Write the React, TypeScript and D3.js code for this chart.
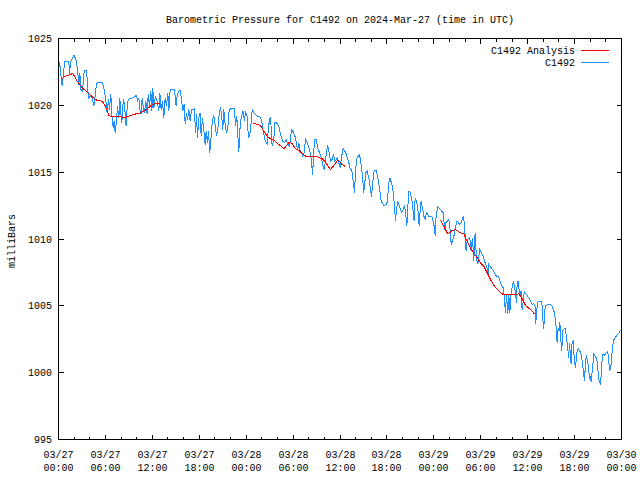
import React from 'react';
import * as d3 from 'd3';

const startTime = Date.UTC(2024, 2, 27, 0, 0);
const endTime = Date.UTC(2024, 2, 30, 0, 0);
const pressureTicks = [995, 1000, 1005, 1010, 1015, 1020, 1025];

// C1492 readings as [hours after 03/27 00:00 UTC, millibars]
const stationDay1: [number, number][] = [
  [0.13, 1023.25], [0.47, 1021.43], [0.68, 1022.68], [0.81, 1023.25], [1.32, 1023.25], [1.41, 1022.31],
  [1.53, 1023.25], [2.0, 1023.75], [2.3, 1023.3], [2.47, 1022.43], [2.6, 1021.56], [2.73, 1022.43],
  [2.86, 1021.19], [3.03, 1021.06], [3.15, 1021.56], [3.28, 1022.56], [3.5, 1022.63], [3.62, 1022.48],
  [3.71, 1021.31], [3.88, 1020.56], [4.09, 1020.69], [4.31, 1020.56], [4.52, 1019.94], [4.65, 1020.56],
  [4.86, 1021.56], [5.03, 1021.73], [5.58, 1021.73], [5.8, 1021.31], [6.05, 1020.44], [6.22, 1019.44],
  [6.39, 1020.44], [6.52, 1019.69], [6.69, 1020.81], [6.82, 1019.32], [6.99, 1018.32], [7.12, 1018.82],
  [7.25, 1017.94], [7.42, 1018.94], [7.54, 1019.94], [7.72, 1019.07], [7.84, 1020.56], [7.97, 1019.44],
  [8.1, 1018.69], [8.23, 1020.06], [8.35, 1020.44], [8.53, 1019.32], [8.65, 1018.44], [8.78, 1019.81],
  [8.91, 1020.44], [9.42, 1020.56], [9.97, 1020.74], [10.14, 1020.31], [10.27, 1020.56], [10.44, 1019.56],
  [10.57, 1019.32], [10.7, 1020.56], [10.87, 1019.69], [11.0, 1019.44], [11.17, 1020.31], [11.34, 1019.32],
  [11.47, 1020.81], [11.64, 1019.94], [11.81, 1021.06], [11.94, 1019.56], [12.06, 1021.31], [12.19, 1019.81],
  [12.4, 1020.69], [12.62, 1020.31], [12.83, 1019.56], [12.96, 1020.94], [13.13, 1019.69], [13.3, 1020.31],
  [13.47, 1019.07], [13.64, 1020.56], [13.81, 1019.94], [13.98, 1020.94], [14.11, 1019.56], [14.28, 1021.19],
  [14.83, 1021.19], [15.05, 1019.94], [15.17, 1020.69], [15.35, 1021.06], [15.56, 1021.11], [15.73, 1020.44],
  [15.9, 1019.56], [16.07, 1020.06], [16.2, 1018.57], [16.37, 1019.44], [16.5, 1018.94], [16.67, 1019.69],
  [16.84, 1018.82], [17.01, 1019.69], [17.39, 1019.74], [17.52, 1017.94], [17.65, 1019.32], [17.77, 1017.57],
  [17.95, 1019.07], [18.12, 1019.44], [18.24, 1017.69], [18.41, 1019.07], [18.58, 1018.19], [18.76, 1017.07],
  [18.88, 1018.07], [19.05, 1017.2], [19.18, 1018.07], [19.35, 1016.45], [19.52, 1017.69], [19.69, 1018.94],
  [19.86, 1019.24], [20.03, 1018.57], [20.2, 1017.69], [20.37, 1018.19], [20.55, 1019.32], [20.72, 1019.89],
  [20.89, 1019.07], [21.01, 1018.19], [21.14, 1019.69], [21.31, 1018.57], [21.48, 1017.94], [21.65, 1018.32],
  [21.82, 1019.56], [21.99, 1019.74], [22.51, 1019.74], [22.63, 1018.44], [22.8, 1019.19], [22.93, 1017.82],
  [23.06, 1016.5], [23.2, 1018.2], [23.36, 1019.07], [23.61, 1019.57], [23.79, 1018.82], [23.91, 1019.56],
];

const stationDay2: [number, number][] = [
  [24.13, 1019.19], [24.25, 1017.94], [24.34, 1017.57], [24.55, 1018.07], [24.77, 1019.69], [24.98, 1019.44],
  [25.4, 1019.19], [25.7, 1019.19], [25.96, 1018.94], [26.13, 1018.19], [26.39, 1017.45], [26.68, 1017.07],
  [26.81, 1018.07], [26.98, 1018.94], [27.11, 1019.07], [27.24, 1017.94], [27.32, 1016.94], [27.54, 1017.45],
  [27.66, 1018.69], [27.83, 1018.74], [28.18, 1018.44], [28.35, 1017.94], [28.52, 1017.57], [28.69, 1017.32],
  [28.94, 1017.2], [29.11, 1017.45], [29.37, 1017.07], [29.54, 1016.94], [29.67, 1017.45], [29.8, 1018.19],
  [29.97, 1018.07], [30.31, 1017.57], [30.48, 1016.94], [30.61, 1016.7], [30.73, 1017.2], [30.86, 1016.7],
  [31.25, 1016.2], [31.42, 1016.45], [31.59, 1017.5], [31.76, 1017.32], [32.1, 1016.7], [32.27, 1016.2],
  [32.4, 1015.45], [32.48, 1014.82], [32.61, 1015.95], [32.69, 1016.94], [32.78, 1017.45], [32.95, 1017.45],
  [33.21, 1016.7], [33.55, 1016.2], [33.89, 1015.32], [34.02, 1015.2], [34.14, 1015.95], [34.4, 1016.94],
  [34.53, 1016.82], [34.65, 1016.2], [34.82, 1015.82], [34.99, 1015.95], [35.17, 1016.32], [35.34, 1015.82],
  [35.68, 1016.07], [35.85, 1015.7], [36.02, 1015.32], [36.19, 1016.07], [36.36, 1016.7], [36.45, 1016.75],
  [36.74, 1016.45], [37.08, 1015.83], [37.34, 1015.2], [37.51, 1015.15], [37.77, 1013.96], [37.85, 1013.46],
  [37.98, 1014.96], [38.11, 1015.96], [38.45, 1016.33], [38.62, 1015.96], [38.83, 1014.96], [39.04, 1013.46],
  [39.17, 1014.21], [39.3, 1014.96], [39.47, 1015.09], [39.73, 1014.46], [40.03, 1013.16], [40.15, 1013.96],
  [40.32, 1014.96], [40.5, 1015.16], [40.67, 1015.09], [41.01, 1013.96], [41.26, 1012.84], [41.6, 1012.51],
  [41.94, 1012.59], [42.07, 1012.84], [42.24, 1014.21], [42.37, 1014.59], [42.71, 1013.96], [42.97, 1012.46],
  [43.09, 1011.34], [43.22, 1012.21], [43.39, 1012.84], [43.73, 1012.21], [43.9, 1011.96], [44.25, 1012.46],
  [44.42, 1011.84], [44.54, 1010.97], [44.67, 1012.09], [44.76, 1013.59], [44.93, 1013.59], [45.22, 1012.84],
  [45.48, 1011.34], [45.61, 1013.09], [45.78, 1012.84], [45.95, 1012.34], [46.12, 1010.97], [46.25, 1012.09],
  [46.38, 1012.84], [46.72, 1011.72], [46.89, 1011.47], [47.06, 1011.96], [47.4, 1011.66], [47.75, 1011.72],
];

const stationDay3: [number, number][] = [
  [48.09, 1010.84], [48.17, 1010.22], [48.3, 1011.8], [48.51, 1012.41], [48.85, 1012.21], [49.19, 1011.96],
  [49.4, 1010.71], [49.53, 1011.21], [49.91, 1011.46], [50.04, 1010.96], [50.21, 1009.72], [50.3, 1009.59],
  [50.38, 1009.97], [50.55, 1010.09], [50.64, 1010.59], [50.98, 1011.34], [51.32, 1011.09], [51.49, 1011.21],
  [51.79, 1011.71], [51.92, 1011.09], [52.09, 1009.22], [52.17, 1009.09], [52.26, 1009.97], [52.6, 1010.09],
  [52.77, 1009.09], [52.94, 1010.09], [53.11, 1008.35], [53.28, 1010.46], [53.45, 1008.6], [53.62, 1008.1],
  [53.88, 1009.22], [54.22, 1008.84], [54.56, 1008.22], [54.86, 1007.72], [54.94, 1007.22], [55.03, 1008.1],
  [55.5, 1007.72], [56.01, 1007.22], [56.27, 1007.22], [56.52, 1006.73], [56.86, 1006.35], [56.99, 1005.85],
  [57.16, 1004.48], [57.29, 1005.85], [57.46, 1004.36], [57.59, 1005.85], [57.72, 1004.48], [57.85, 1005.73],
  [58.06, 1006.6], [58.18, 1006.85], [58.44, 1005.98], [58.57, 1005.23], [58.65, 1006.6], [58.78, 1006.85],
  [58.99, 1005.73], [59.16, 1006.1], [59.29, 1004.73], [59.34, 1004.85], [59.51, 1005.85], [59.59, 1006.03],
  [59.93, 1005.78], [60.27, 1005.48], [60.61, 1005.1], [60.78, 1005.18], [60.95, 1004.98], [61.04, 1003.61],
  [61.12, 1004.48], [61.3, 1005.28], [61.64, 1005.35], [61.81, 1005.28], [61.98, 1003.74], [62.06, 1003.24],
  [62.15, 1004.48], [62.28, 1005.03], [62.83, 1005.1], [63.09, 1005.03], [63.43, 1004.48], [63.6, 1003.74],
  [63.77, 1002.24], [63.9, 1003.36], [64.02, 1003.11], [64.11, 1003.79], [64.28, 1002.12], [64.36, 1001.62],
  [64.45, 1002.62], [64.53, 1003.24], [64.83, 1003.29], [65.04, 1002.24], [65.25, 1001.12], [65.34, 1002.24],
  [65.56, 1000.62], [65.68, 1002.24], [65.81, 1002.37], [65.98, 1000.87], [66.11, 1000.37], [66.32, 1001.62],
  [66.45, 1001.8], [66.79, 1001.49], [67.01, 1000.75], [67.26, 999.37], [67.43, 1001.0], [67.51, 1001.19],
  [67.68, 1000.87], [67.94, 999.5], [68.03, 999.75], [68.11, 999.3], [68.28, 1000.25], [68.46, 1001.37],
  [68.71, 1001.19], [68.88, 1000.87], [69.1, 999.5], [69.31, 999.12], [69.39, 999.75], [69.56, 1001.37],
  [69.82, 1001.3], [69.99, 1001.44], [70.25, 1001.62], [70.33, 1001.0], [70.5, 1000.12], [70.67, 1000.62],
  [70.84, 1001.87], [71.01, 1002.45], [71.36, 1002.75], [71.7, 1003.0], [71.87, 1003.2],
];

// C1492 Analysis: three separate runs
const analysisRun1: [number, number][] = [
  [0.26, 1021.93], [0.9, 1022.18], [1.83, 1022.38], [2.39, 1021.81], [3.03, 1021.31], [3.67, 1020.99],
  [4.31, 1020.64], [4.94, 1020.36], [5.58, 1020.31], [6.01, 1019.94], [6.44, 1019.24], [6.86, 1019.14],
  [7.5, 1019.19], [8.35, 1019.07], [8.78, 1019.14], [9.63, 1019.32], [10.49, 1019.44], [11.25, 1019.69],
  [11.85, 1019.99], [12.4, 1020.14], [12.96, 1020.14],
];

const analysisRun2: [number, number][] = [
  [24.85, 1018.69], [25.83, 1018.49], [26.26, 1018.07], [26.68, 1017.69], [27.11, 1017.49], [27.54, 1017.4],
  [28.18, 1017.07], [28.6, 1016.87], [28.82, 1016.75], [29.11, 1016.95], [29.54, 1017.25], [29.88, 1017.12],
  [30.31, 1016.77], [30.73, 1016.62], [31.16, 1016.4], [31.59, 1016.2], [32.86, 1016.2], [33.72, 1016.0],
  [34.14, 1015.75], [34.78, 1015.2], [35.21, 1015.5], [35.63, 1015.83], [35.85, 1015.87], [36.27, 1015.57],
  [36.61, 1015.45],
];

const analysisRun3: [number, number][] = [
  [48.85, 1011.41], [49.28, 1010.96], [49.7, 1010.46], [49.91, 1010.41], [50.34, 1010.64], [50.77, 1010.71],
  [51.41, 1010.46], [51.83, 1010.39], [52.26, 1009.84], [52.69, 1009.34], [53.11, 1008.92], [53.54, 1008.6],
  [53.96, 1008.22], [54.39, 1007.97], [54.82, 1007.47], [55.24, 1006.97], [55.67, 1006.53], [56.1, 1006.23],
  [56.52, 1005.98], [56.95, 1005.83], [57.8, 1005.83], [58.65, 1005.85], [58.87, 1005.9], [59.29, 1005.53],
  [59.72, 1005.03], [60.36, 1004.73], [60.87, 1004.4],
];

const FONT = '"Liberation Mono", "DejaVu Sans Mono", monospace';
const BLUE = '#1e90ff';
const RED = '#ff0000';

const toDate = (h: number) => new Date(startTime + h * 3600 * 1000);

export default function App() {
  const width = 640;
  const height = 480;
  const left = 58.5, right = 621.5, top = 38.5, bottom = 439.5;

  const x = d3.scaleUtc().domain([new Date(startTime), new Date(endTime)]).range([left, right]);
  const y = d3.scaleLinear().domain([995, 1025]).range([bottom, top]);

  const line = d3.line<[number, number]>()
    .x(d => x(toDate(d[0])))
    .y(d => y(d[1]));

  const station = [...stationDay1, ...stationDay2, ...stationDay3];
  const analysisRuns = [analysisRun1, analysisRun2, analysisRun3];

  const majorTicks = d3.utcHour.every(6)!.range(new Date(startTime), new Date(endTime + 1));
  const minorTicks = d3.utcHour.every(2)!.range(new Date(startTime), new Date(endTime + 1))
    .filter(d => d.getUTCHours() % 6 !== 0);
  const fmtDay = d3.utcFormat('%m/%d');
  const fmtTime = d3.utcFormat('%H:%M');

  const snap = (v: number) => Math.round(v - 0.5) + 0.5;

  return (
    <svg width={width} height={height} style={{ position: 'absolute', left: 0, top: 0, background: '#fff' }}
      fontFamily={FONT} fontSize={10}>
      <rect x={0} y={0} width={width} height={height} fill="#fff" />

      <text x={(left + right) / 2} y={23} textAnchor="middle" fill="#000">
        Barometric Pressure for C1492 on 2024-Mar-27 (time in UTC)
      </text>

      <text transform={`translate(15,241) rotate(-90)`} textAnchor="middle" fill="#000">milliBars</text>

      {/* y axis ticks */}
      {pressureTicks.map(t => {
        const yy = snap(y(t));
        return (
          <g key={t}>
            <line x1={left} x2={left + 5} y1={yy} y2={yy} stroke="#000" shapeRendering="crispEdges" />
            <line x1={right} x2={right - 5} y1={yy} y2={yy} stroke="#000" shapeRendering="crispEdges" />
            <text x={52} y={yy + 3.5} textAnchor="end" fill="#000">{t}</text>
          </g>
        );
      })}

      {/* x axis ticks */}
      {minorTicks.map(d => {
        const xx = snap(x(d));
        return (
          <g key={'m' + d.getTime()}>
            <line x1={xx} x2={xx} y1={bottom} y2={bottom - 3} stroke="#000" shapeRendering="crispEdges" />
            <line x1={xx} x2={xx} y1={top} y2={top + 3} stroke="#000" shapeRendering="crispEdges" />
          </g>
        );
      })}
      {majorTicks.map(d => {
        const xx = snap(x(d));
        return (
          <g key={'M' + d.getTime()}>
            <line x1={xx} x2={xx} y1={bottom} y2={bottom - 5} stroke="#000" shapeRendering="crispEdges" />
            <line x1={xx} x2={xx} y1={top} y2={top + 5} stroke="#000" shapeRendering="crispEdges" />
            <text x={xx} y={458} textAnchor="middle" fill="#000">{fmtDay(d)}</text>
            <text x={xx} y={471} textAnchor="middle" fill="#000">{fmtTime(d)}</text>
          </g>
        );
      })}

      {/* data */}
      <path d={line(station) ?? ''} fill="none" stroke={BLUE} strokeWidth={1} shapeRendering="crispEdges" />
      {analysisRuns.map((run, i) => (
        <path key={i} d={line(run) ?? ''} fill="none" stroke={RED} strokeWidth={1} shapeRendering="crispEdges" />
      ))}

      {/* legend */}
      <text x={575} y={54} textAnchor="end" fill="#000">C1492 Analysis</text>
      <line x1={581} x2={609} y1={50.5} y2={50.5} stroke={RED} shapeRendering="crispEdges" />
      <text x={575} y={66} textAnchor="end" fill="#000">C1492</text>
      <line x1={581} x2={609} y1={62.5} y2={62.5} stroke={BLUE} shapeRendering="crispEdges" />

      {/* frame */}
      <rect x={left} y={top} width={right - left} height={bottom - top} fill="none" stroke="#000"
        shapeRendering="crispEdges" />
    </svg>
  );
}
